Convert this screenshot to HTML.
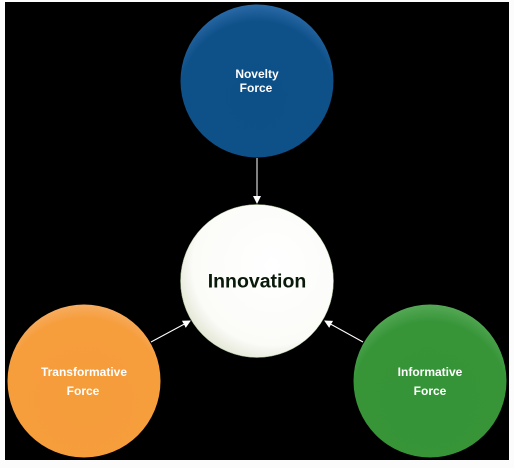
<!DOCTYPE html>
<html><head><meta charset="utf-8"><style>
html,body{margin:0;padding:0;background:#fcfcfc;}
svg{display:block;}
text{font-family:"Liberation Sans",Arial,sans-serif;font-weight:bold;text-anchor:middle;}
</style></head><body>
<svg width="514" height="468" viewBox="0 0 514 468" xmlns="http://www.w3.org/2000/svg">
<defs>
<radialGradient id="gb" cx="0.5" cy="0.62" r="0.62"><stop offset="0" stop-color="#0d4f87"/><stop offset="0.82" stop-color="#0e5088"/><stop offset="1" stop-color="#2a6aa8"/></radialGradient>
<radialGradient id="gw" cx="0.6" cy="0.4" r="0.65"><stop offset="0" stop-color="#ffffff"/><stop offset="0.8" stop-color="#fbfbf8"/><stop offset="1" stop-color="#e3e6d4"/></radialGradient>
<radialGradient id="go" cx="0.5" cy="0.62" r="0.62"><stop offset="0" stop-color="#f59c3b"/><stop offset="0.85" stop-color="#f69d3c"/><stop offset="1" stop-color="#f7ad60"/></radialGradient>
<radialGradient id="gg" cx="0.5" cy="0.62" r="0.62"><stop offset="0" stop-color="#369438"/><stop offset="0.82" stop-color="#379538"/><stop offset="1" stop-color="#55a856"/></radialGradient>
<marker id="ar" markerWidth="8" markerHeight="8" refX="7" refY="4" orient="auto" markerUnits="userSpaceOnUse"><path d="M0,0 L8,4 L0,8 z" fill="#fff"/></marker>
</defs>
<rect x="5" y="2" width="504" height="458" fill="#000"/>
<line x1="257" y1="158" x2="257" y2="203" stroke="#fff" stroke-width="1" marker-end="url(#ar)"/>
<line x1="151" y1="342" x2="190" y2="321" stroke="#fff" stroke-width="1" marker-end="url(#ar)"/>
<line x1="363" y1="342" x2="325" y2="321" stroke="#fff" stroke-width="1" marker-end="url(#ar)"/>
<circle cx="257" cy="81" r="76.5" fill="url(#gb)"/>
<circle cx="257" cy="281" r="76.5" fill="url(#gw)" stroke="#9ab08a" stroke-width="0.5"/>
<circle cx="84" cy="381" r="76.5" fill="url(#go)"/>
<circle cx="430" cy="381" r="76.5" fill="url(#gg)"/>
<text x="257" y="78" font-size="12" fill="#fff">Novelty</text>
<text x="256" y="92" font-size="12" fill="#fff">Force</text>
<text x="257" y="287.5" font-size="19.5" fill="#0a1a0a">Innovation</text>
<text x="84" y="376" font-size="12" fill="#fff">Transformative</text>
<text x="83" y="395" font-size="12" fill="#fff">Force</text>
<text x="430" y="376" font-size="12" fill="#fff">Informative</text>
<text x="430" y="395" font-size="12" fill="#fff">Force</text>
</svg>
</body></html>
